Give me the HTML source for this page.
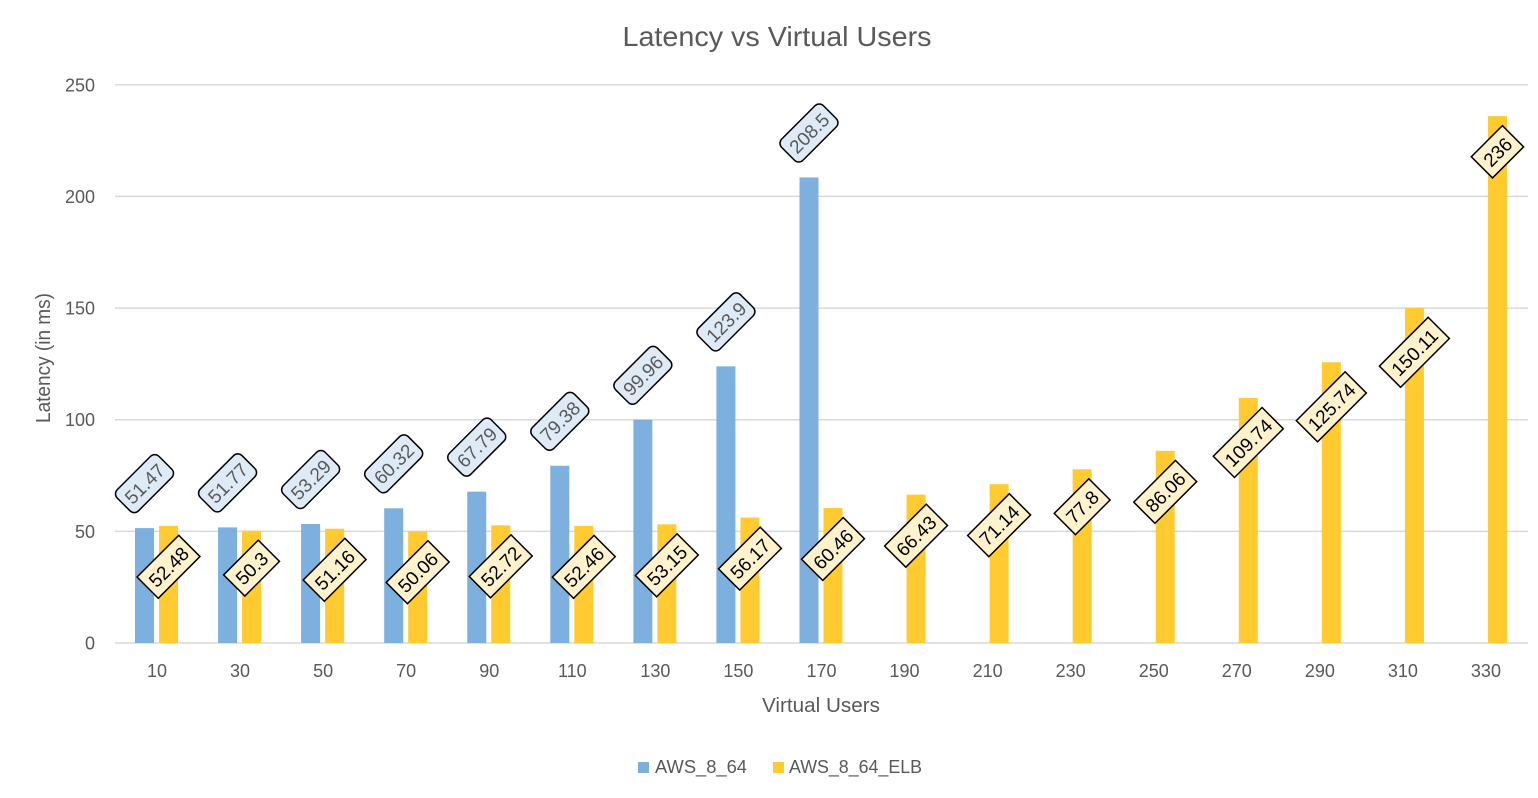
<!DOCTYPE html>
<html>
<head>
<meta charset="utf-8">
<style>
  html,body{margin:0;padding:0;background:#fff;}
  svg{display:block;}
  text{font-family:"Liberation Sans",Arial,sans-serif;}
</style>
</head>
<body>
<svg width="1538" height="798" viewBox="0 0 1538 798" xmlns="http://www.w3.org/2000/svg">
  <rect width="1538" height="798" fill="#fff"/>
  <!-- title -->
  <text x="777" y="46" font-size="28" fill="#595959" text-anchor="middle" textLength="309" lengthAdjust="spacingAndGlyphs">Latency vs Virtual Users</text>

  <!-- gridlines -->
  <g stroke="#D9D9D9" stroke-width="1.5">
    <line x1="115" y1="84.8" x2="1528" y2="84.8"/>
    <line x1="115" y1="196.4" x2="1528" y2="196.4"/>
    <line x1="115" y1="308.1" x2="1528" y2="308.1"/>
    <line x1="115" y1="419.7" x2="1528" y2="419.7"/>
    <line x1="115" y1="531.4" x2="1528" y2="531.4"/>
    <line x1="115" y1="643" x2="1528" y2="643"/>
  </g>

  <!-- y tick labels -->
  <g font-size="18" fill="#595959" text-anchor="end">
    <text x="95" y="91.3">250</text>
    <text x="95" y="202.9">200</text>
    <text x="95" y="314.6">150</text>
    <text x="95" y="426.2">100</text>
    <text x="95" y="537.9">50</text>
    <text x="95" y="649.5">0</text>
  </g>

  <!-- y axis title -->
  <text transform="translate(50,358) rotate(-90)" font-size="20" fill="#595959" text-anchor="middle" textLength="130" lengthAdjust="spacingAndGlyphs">Latency (in ms)</text>

  <!-- x tick labels -->
  <g font-size="18" fill="#595959" text-anchor="middle">
    <text x="157" y="677">10</text>
    <text x="240.06" y="677">30</text>
    <text x="323.12" y="677">50</text>
    <text x="406.18" y="677">70</text>
    <text x="489.24" y="677">90</text>
    <text x="572.3" y="677">110</text>
    <text x="655.36" y="677">130</text>
    <text x="738.42" y="677">150</text>
    <text x="821.48" y="677">170</text>
    <text x="904.54" y="677">190</text>
    <text x="987.6" y="677">210</text>
    <text x="1070.66" y="677">230</text>
    <text x="1153.72" y="677">250</text>
    <text x="1236.78" y="677">270</text>
    <text x="1319.84" y="677">290</text>
    <text x="1402.9" y="677">310</text>
    <text x="1485.96" y="677">330</text>
  </g>

  <!-- x axis title -->
  <text x="821" y="712" font-size="20" fill="#595959" text-anchor="middle" textLength="118" lengthAdjust="spacingAndGlyphs">Virtual Users</text>

  <!-- blue bars -->
  <g fill="#7DB0DE">
    <rect x="135" y="528.08" width="19" height="114.92"/>
    <rect x="218.06" y="527.41" width="19" height="115.59"/>
    <rect x="301.12" y="524.01" width="19" height="118.99"/>
    <rect x="384.18" y="508.32" width="19" height="134.68"/>
    <rect x="467.24" y="491.64" width="19" height="151.36"/>
    <rect x="550.3" y="465.76" width="19" height="177.24"/>
    <rect x="633.36" y="419.81" width="19" height="223.19"/>
    <rect x="716.42" y="366.36" width="19" height="276.64"/>
    <rect x="799.48" y="177.46" width="19" height="465.54"/>
  </g>

  <!-- yellow bars -->
  <g fill="#FFCB30">
    <rect x="159" y="525.82" width="19" height="117.18"/>
    <rect x="242.06" y="530.69" width="19" height="112.31"/>
    <rect x="325.12" y="528.77" width="19" height="114.23"/>
    <rect x="408.18" y="531.23" width="19" height="111.77"/>
    <rect x="491.24" y="525.29" width="19" height="117.71"/>
    <rect x="574.3" y="525.87" width="19" height="117.13"/>
    <rect x="657.36" y="524.33" width="19" height="118.67"/>
    <rect x="740.42" y="517.58" width="19" height="125.42"/>
    <rect x="823.48" y="508" width="19" height="135"/>
    <rect x="906.54" y="494.67" width="19" height="148.33"/>
    <rect x="989.6" y="484.16" width="19" height="158.84"/>
    <rect x="1072.66" y="469.29" width="19" height="173.71"/>
    <rect x="1155.72" y="450.85" width="19" height="192.15"/>
    <rect x="1238.78" y="397.97" width="19" height="245.03"/>
    <rect x="1321.84" y="362.25" width="19" height="280.75"/>
    <rect x="1404.9" y="307.83" width="19" height="335.17"/>
    <rect x="1487.96" y="116.06" width="19" height="526.94"/>
  </g>

  <!-- blue data labels -->
  <g font-size="19" fill="#595959" text-anchor="middle">
    <g transform="translate(144.5,483.6) rotate(-45)"><rect x="-29.5" y="-15" width="59" height="30" rx="6" fill="#DEEBF7" stroke="#000" stroke-width="1.5"/><text x="0" y="7">51.47</text></g>
    <g transform="translate(227.56,482.9) rotate(-45)"><rect x="-29.5" y="-15" width="59" height="30" rx="6" fill="#DEEBF7" stroke="#000" stroke-width="1.5"/><text x="0" y="7">51.77</text></g>
    <g transform="translate(310.62,479.5) rotate(-45)"><rect x="-29.5" y="-15" width="59" height="30" rx="6" fill="#DEEBF7" stroke="#000" stroke-width="1.5"/><text x="0" y="7">53.29</text></g>
    <g transform="translate(393.68,463.8) rotate(-45)"><rect x="-29.5" y="-15" width="59" height="30" rx="6" fill="#DEEBF7" stroke="#000" stroke-width="1.5"/><text x="0" y="7">60.32</text></g>
    <g transform="translate(476.74,447.1) rotate(-45)"><rect x="-29.5" y="-15" width="59" height="30" rx="6" fill="#DEEBF7" stroke="#000" stroke-width="1.5"/><text x="0" y="7">67.79</text></g>
    <g transform="translate(559.8,421.3) rotate(-45)"><rect x="-29.5" y="-15" width="59" height="30" rx="6" fill="#DEEBF7" stroke="#000" stroke-width="1.5"/><text x="0" y="7">79.38</text></g>
    <g transform="translate(642.86,375.3) rotate(-45)"><rect x="-29.5" y="-15" width="59" height="30" rx="6" fill="#DEEBF7" stroke="#000" stroke-width="1.5"/><text x="0" y="7">99.96</text></g>
    <g transform="translate(725.92,321.9) rotate(-45)"><rect x="-29.5" y="-15" width="59" height="30" rx="6" fill="#DEEBF7" stroke="#000" stroke-width="1.5"/><text x="0" y="7">123.9</text></g>
    <g transform="translate(808.98,133) rotate(-45)"><rect x="-29.5" y="-15" width="59" height="30" rx="6" fill="#DEEBF7" stroke="#000" stroke-width="1.5"/><text x="0" y="7">208.5</text></g>
  </g>

  <!-- yellow data labels -->
  <g font-size="19" fill="#000" text-anchor="middle">
    <g transform="translate(168.5,566.8) rotate(-45)"><rect x="-29.5" y="-15" width="59" height="30" fill="#FFF2CC" stroke="#000" stroke-width="1.5"/><text x="0" y="7">52.48</text></g>
    <g transform="translate(251.56,568.1) rotate(-45)"><rect x="-24.5" y="-15" width="49" height="30" fill="#FFF2CC" stroke="#000" stroke-width="1.5"/><text x="0" y="7">50.3</text></g>
    <g transform="translate(334.62,569.8) rotate(-45)"><rect x="-29.5" y="-15" width="59" height="30" fill="#FFF2CC" stroke="#000" stroke-width="1.5"/><text x="0" y="7">51.16</text></g>
    <g transform="translate(417.68,572.2) rotate(-45)"><rect x="-29.5" y="-15" width="59" height="30" fill="#FFF2CC" stroke="#000" stroke-width="1.5"/><text x="0" y="7">50.06</text></g>
    <g transform="translate(500.74,566.3) rotate(-45)"><rect x="-29.5" y="-15" width="59" height="30" fill="#FFF2CC" stroke="#000" stroke-width="1.5"/><text x="0" y="7">52.72</text></g>
    <g transform="translate(583.8,566.9) rotate(-45)"><rect x="-29.5" y="-15" width="59" height="30" fill="#FFF2CC" stroke="#000" stroke-width="1.5"/><text x="0" y="7">52.46</text></g>
    <g transform="translate(666.86,565.3) rotate(-45)"><rect x="-29.5" y="-15" width="59" height="30" fill="#FFF2CC" stroke="#000" stroke-width="1.5"/><text x="0" y="7">53.15</text></g>
    <g transform="translate(749.92,558.6) rotate(-45)"><rect x="-29.5" y="-15" width="59" height="30" fill="#FFF2CC" stroke="#000" stroke-width="1.5"/><text x="0" y="7">56.17</text></g>
    <g transform="translate(832.98,549) rotate(-45)"><rect x="-29.5" y="-15" width="59" height="30" fill="#FFF2CC" stroke="#000" stroke-width="1.5"/><text x="0" y="7">60.46</text></g>
    <g transform="translate(916.04,535.7) rotate(-45)"><rect x="-29.5" y="-15" width="59" height="30" fill="#FFF2CC" stroke="#000" stroke-width="1.5"/><text x="0" y="7">66.43</text></g>
    <g transform="translate(999.1,525.2) rotate(-45)"><rect x="-29.5" y="-15" width="59" height="30" fill="#FFF2CC" stroke="#000" stroke-width="1.5"/><text x="0" y="7">71.14</text></g>
    <g transform="translate(1082.16,506.7) rotate(-45)"><rect x="-24.5" y="-15" width="49" height="30" fill="#FFF2CC" stroke="#000" stroke-width="1.5"/><text x="0" y="7">77.8</text></g>
    <g transform="translate(1165.22,491.9) rotate(-45)"><rect x="-29.5" y="-15" width="59" height="30" fill="#FFF2CC" stroke="#000" stroke-width="1.5"/><text x="0" y="7">86.06</text></g>
    <g transform="translate(1248.28,442.5) rotate(-45)"><rect x="-34.5" y="-15" width="69" height="30" fill="#FFF2CC" stroke="#000" stroke-width="1.5"/><text x="0" y="7">109.74</text></g>
    <g transform="translate(1331.34,406.8) rotate(-45)"><rect x="-34.5" y="-15" width="69" height="30" fill="#FFF2CC" stroke="#000" stroke-width="1.5"/><text x="0" y="7">125.74</text></g>
    <g transform="translate(1414.4,352.3) rotate(-45)"><rect x="-34.5" y="-15" width="69" height="30" fill="#FFF2CC" stroke="#000" stroke-width="1.5"/><text x="0" y="7">150.11</text></g>
    <g transform="translate(1497.46,151.8) rotate(-45)"><rect x="-22" y="-15" width="44" height="30" fill="#FFF2CC" stroke="#000" stroke-width="1.5"/><text x="0" y="7">236</text></g>
  </g>

  <!-- legend -->
  <rect x="638" y="762" width="11" height="11" fill="#7DB0DE"/>
  <text x="655" y="773" font-size="18" fill="#595959" textLength="92" lengthAdjust="spacingAndGlyphs">AWS_8_64</text>
  <rect x="773" y="762" width="11" height="11" fill="#FFCB30"/>
  <text x="789" y="773" font-size="18" fill="#595959" textLength="133" lengthAdjust="spacingAndGlyphs">AWS_8_64_ELB</text>
</svg>
</body>
</html>
